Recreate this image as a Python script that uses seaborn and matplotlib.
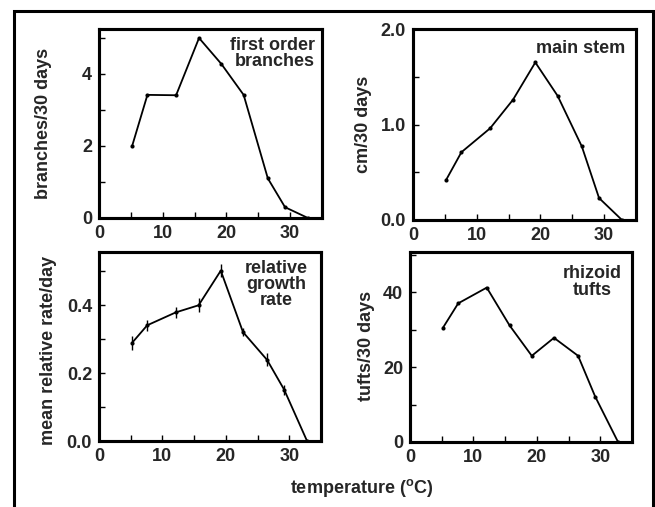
import matplotlib
matplotlib.use("Agg")
import matplotlib.pyplot as plt
import seaborn as sns
import pandas as pd
from matplotlib.patches import Rectangle
from matplotlib.ticker import MultipleLocator

sns.set_theme(style="white")
plt.rcParams['font.family'] = ['Liberation Sans', 'DejaVu Sans']
plt.rcParams['font.weight'] = 'bold'
plt.rcParams['mathtext.fontset'] = 'custom'
plt.rcParams['mathtext.rm'] = 'Liberation Sans:bold'
plt.rcParams['mathtext.it'] = 'Liberation Sans:bold'
plt.rcParams['mathtext.bf'] = 'Liberation Sans:bold'

# ---- data ----
temperature = [5.2, 7.6, 12.1, 15.7, 19.2, 22.7, 26.5, 29.2, 32.8]
branches = [2.0, 3.42, 3.41, 5.0, 4.28, 3.42, 1.1, 0.3, 0.0]
main_stem = [0.42, 0.71, 0.96, 1.26, 1.65, 1.30, 0.77, 0.23, 0.0]
rel_growth = [0.289, 0.341, 0.379, 0.400, 0.502, 0.321, 0.239, 0.151, 0.0]
rel_growth_err = [0.020, 0.017, 0.017, 0.020, 0.020, 0.012, 0.019, 0.015, 0.0]
rhizoid = [30.5, 37.0, 41.2, 31.1, 23.0, 27.8, 23.0, 12.1, 0.0]

x_ticks = [0, 10, 20, 30]
branches_ticks = [0, 2, 4]
main_stem_ticks = [0.0, 1.0, 2.0]
rel_growth_ticks = [0.0, 0.2, 0.4]
rhizoid_ticks = [0, 20, 40]

panels = [
    dict(y=branches, ylabel="branches/30 days", title="first order\nbranches",
         ylim=(0, 5.25), ticks=branches_ticks, minor=1, fmt="{:.0f}", ha="right"),
    dict(y=main_stem, ylabel="cm/30 days", title="main stem",
         ylim=(0, 2.0), ticks=main_stem_ticks, minor=0.5, fmt="{:.1f}", ha="right"),
    dict(y=rel_growth, ylabel="mean relative rate/day", title="relative\ngrowth\nrate",
         ylim=(0, 0.557), ticks=rel_growth_ticks, minor=0.1, fmt="{:.1f}", ha="center",
         err=rel_growth_err),
    dict(y=rhizoid, ylabel="tufts/30 days", title="rhizoid\ntufts",
         ylim=(0, 50.7), ticks=rhizoid_ticks, minor=10, fmt="{:.0f}", ha="center"),
]

W, H = 655, 507
fig = plt.figure(figsize=(W / 100, H / 100), dpi=100)
fig.patch.set_facecolor("white")

# axes boxes in pixels: left, right, top, bottom
boxes = [(99, 322, 29, 218), (413, 636, 29, 220), (99, 321, 252, 441), (410, 632, 252, 442)]
label_x = [-0.211, -0.184, -0.189, -0.158]
label_y = [0.50, 0.50, 0.48, 0.505]
title_pos = [(0.97, 0.96), (0.95, 0.94), (0.80, 0.96), (0.82, 0.93)]

for i, (p, b) in enumerate(zip(panels, boxes)):
    l, r, t, bt = b
    rect = [l / W, 1 - bt / H, (r - l) / W, (bt - t) / H]
    ax = fig.add_axes(rect)
    df = pd.DataFrame({"temperature": temperature, "value": p["y"]})
    sns.lineplot(data=df, x="temperature", y="value", ax=ax, color="black",
                 linewidth=1.3, marker="o", markersize=3, markeredgewidth=0)
    if "err" in p:
        ax.errorbar(temperature, p["y"], yerr=p["err"], fmt="none",
                    ecolor="black", elinewidth=1.0, capsize=0)
    ax.set_xticks(x_ticks)
    ax.set_xticklabels([str(v) for v in x_ticks])
    ax.xaxis.set_minor_locator(MultipleLocator(5))
    ax.set_yticks(p["ticks"])
    ax.set_yticklabels([p["fmt"].format(v) for v in p["ticks"]])
    ax.yaxis.set_minor_locator(MultipleLocator(p["minor"]))
    ax.set_xlim(0, 35)
    ax.set_ylim(*p["ylim"])
    ax.tick_params(which="both", direction="in", color="black", width=1.0,
                   top=False, right=False, bottom=True, left=True)
    ax.tick_params(which="major", length=4, labelsize=13, pad=5)
    ax.tick_params(which="minor", length=4)
    for lab in ax.get_xticklabels() + ax.get_yticklabels():
        lab.set_fontweight("bold")
    for name, s in ax.spines.items():
        s.set_visible(True)
        s.set_color("black")
        s.set_linewidth(2.2)
    ax.set_xlabel("")
    ax.set_ylabel(p["ylabel"], fontsize=13, fontweight="bold")
    ax.yaxis.set_label_coords(label_x[i], label_y[i])
    tx, ty = title_pos[i]
    ax.text(tx, ty, p["title"], transform=ax.transAxes, ha=p["ha"], va="top",
            fontsize=13, fontweight="bold", linespacing=0.95, multialignment=p["ha"])
    ax.grid(False)
    # figure-level box around the panel, drawn on top
    fig.add_artist(Rectangle((rect[0], rect[1]), rect[2], rect[3],
                             transform=fig.transFigure, fill=False, edgecolor="black",
                             linewidth=2.2, zorder=10))

fig.text(362 / W, 1 - 488 / H, r"temperature ($^{\mathrm{o}}$C)", ha="center", va="center",
         fontsize=13, fontweight="bold")

# outer frame
fig.patches.append(Rectangle((14 / W, -0.05), (653 - 14) / W, 1 - 11 / H + 0.05,
                             transform=fig.transFigure, fill=False, edgecolor="black",
                             linewidth=2.2, zorder=0))

fig.savefig("out.png", dpi=100, facecolor="white")
